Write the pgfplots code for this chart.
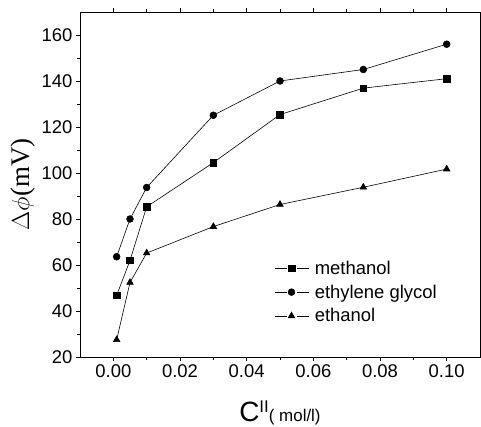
\documentclass[border=0pt]{standalone}
\usepackage{fontspec}
\setmainfont{Liberation Sans}
\newfontfamily\tnr{Liberation Serif}
\usepackage{pgfplots}
\pgfplotsset{compat=1.18}

\pgfplotstableread{
x      meth   glyc   eth
0.001  46.8   63.6   27.5
0.005  62.0   80.0   52.4
0.010  85.3   93.7   65.2
0.030  104.5  125.1  76.7
0.050  125.4  140.0  86.3
0.075  136.9  145.0  93.8
0.100  141.0  156.0  101.7
}\datatable

\begin{document}
\begin{tikzpicture}
\begin{axis}[
    name=ax,
    scale only axis,
    width=400bp, height=345bp,
    xmin=-0.01, xmax=0.11,
    ymin=20, ymax=170,
    xtick={0,0.02,...,0.1},
    ytick={20,40,...,160},
    minor x tick num=1,
    minor y tick num=1,
    tick align=outside,
    major tick length=4bp,
    minor tick length=2.5bp,
    axis line style={line width=0.9pt},
    every tick/.style={black, line width=0.7pt},
    tick label style={font=\fontsize{18.5}{20}\selectfont},
    /pgf/number format/assume math mode=true,
    xticklabel style={/pgf/number format/.cd, fixed, fixed zerofill, precision=2},
    scaled x ticks=false,
    xlabel={{\fontsize{28}{30}\selectfont C}\raisebox{9bp}{\fontsize{17}{18}\selectfont II}( mol/l)},
    xlabel style={font=\fontsize{17}{20}\selectfont, yshift=-16bp},
    ylabel={$\Delta\phi${\tnr(mV)}},
    ylabel style={font=\fontsize{27}{30}\selectfont\tnr, yshift=0bp},
    legend style={draw=none, fill=none, at={(rel axis cs:0.485,0.285)}, anchor=north west,
        font=\fontsize{18.5}{20}\selectfont, row sep=5bp, inner sep=0pt},
    legend cell align=left,
    legend image code/.code={
        \draw[mark=none] (0bp,0bp)--(12bp,0bp) (22bp,0bp)--(34bp,0bp);
        \draw[only marks] plot coordinates {(17bp,0bp)};},
    every axis plot/.append style={black, line width=0.6pt, mark options={solid, fill=black}},
]
\addplot[mark=square*, mark size=3.3bp] table[x=x, y=meth] {\datatable};
\addlegendentry{\hspace{4bp}methanol}
\addplot[mark=*, mark size=3.4bp] table[x=x, y=glyc] {\datatable};
\addlegendentry{\hspace{4bp}ethylene glycol}
\addplot[mark=triangle*, mark size=3.8bp] table[x=x, y=eth] {\datatable};
\addlegendentry{\hspace{4bp}ethanol}
\end{axis}
\pgfresetboundingbox
\path[use as bounding box] ([shift={(-80bp,-70bp)}]ax.south west) rectangle ([shift={(1bp,12bp)}]ax.north east);
\end{tikzpicture}
\end{document}
